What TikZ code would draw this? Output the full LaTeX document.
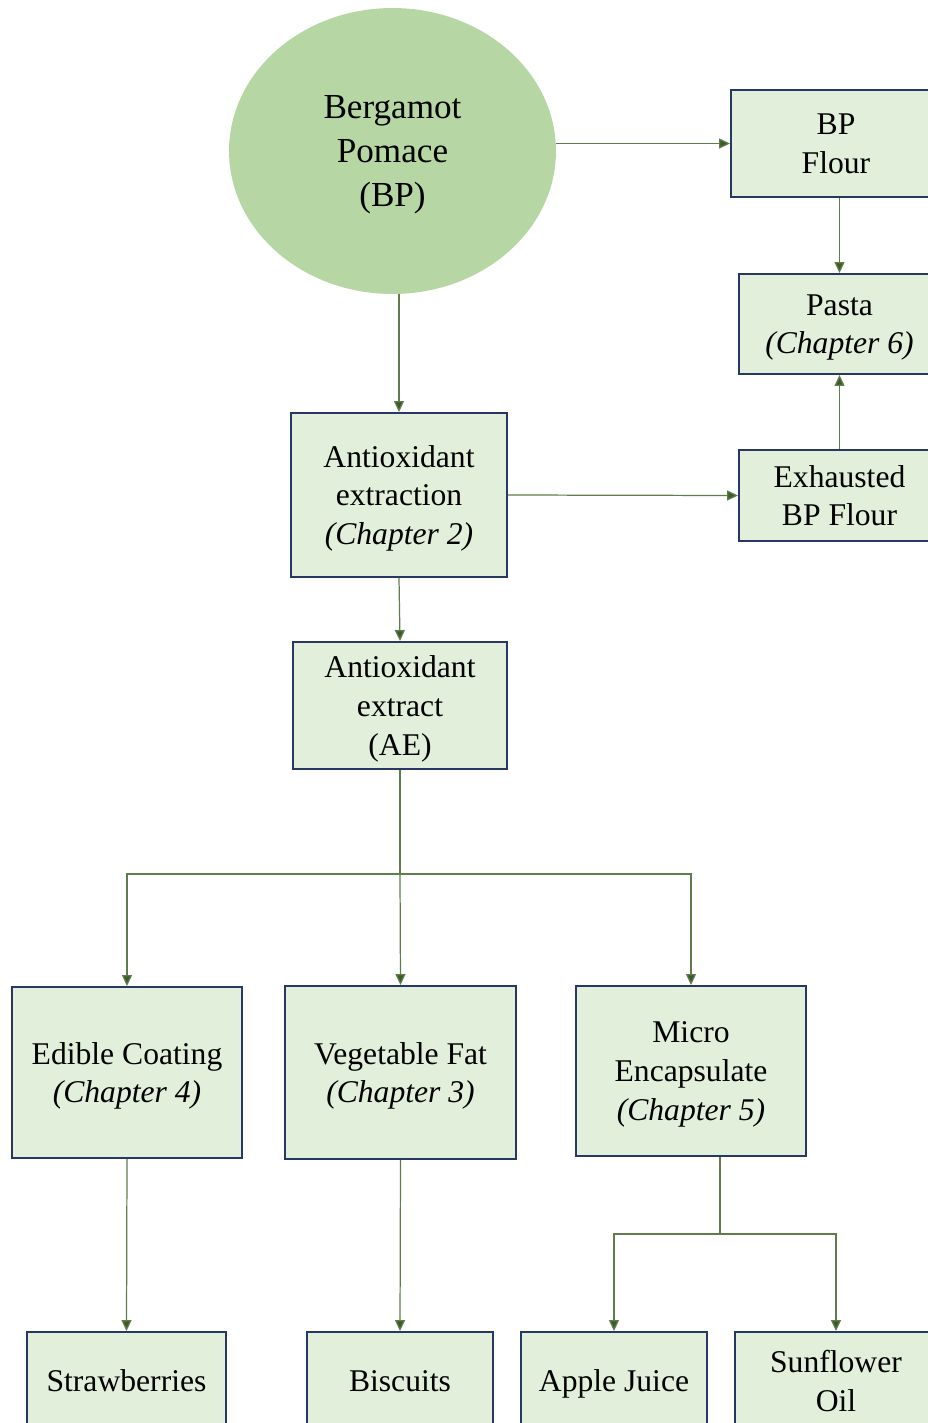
\documentclass[tikz,border=0pt]{standalone}
\usepackage{fontspec}
\setmainfont{Liberation Serif}
\usepackage{tikz}
\usetikzlibrary{shapes,arrows.meta,positioning,calc}

\definecolor{boxfill}{RGB}{226,239,218}
\definecolor{boxline}{RGB}{40,56,100}
\definecolor{bpgreen}{RGB}{182,215,163}
\definecolor{linkline}{RGB}{96,124,76}
\definecolor{tipgreen}{RGB}{60,92,38}

\begin{document}
\begin{tikzpicture}[
    x=0.02cm, y=-0.02cm,
    box/.style={draw=boxline, line width=1.1pt, fill=boxfill, inner sep=0pt, text depth=0pt, align=center, font=\fontsize{18pt}{22pt}\selectfont},
    arrow/.style={draw=linkline, line width=0.7pt, -{Triangle[length=0.22cm, width=0.2cm, fill=tipgreen]}},
    link/.style={draw=linkline, line width=0.7pt},
]
    \useasboundingbox (0,0) rectangle (928,1423);

    \node[ellipse, fill=bpgreen, inner sep=0pt, text depth=0pt, minimum width=6.54cm, minimum height=5.72cm, align=center, font=\fontsize{20pt}{25pt}\selectfont] (bp) at (392.5,151) {Bergamot\\Pomace\\(BP)};

    \node[box, minimum width=4.2cm, minimum height=2.14cm] (flour) at (836,143.5) {BP\\Flour};
    \node[box, minimum width=4.02cm, minimum height=2cm] (pasta) at (839.5,324) {Pasta\\\textit{(Chapter 6)}};
    \node[box, minimum width=4.02cm, minimum height=1.82cm] (exflour) at (839.5,495.5) {Exhausted\\BP Flour};

    \node[box, minimum width=4.32cm, minimum height=3.28cm] (extraction) at (399,495) {Antioxidant\\extraction\\\textit{(Chapter 2)}};
    \node[box, minimum width=4.28cm, minimum height=2.54cm] (extract) at (400,705.5) {Antioxidant\\extract\\(AE)};

    \node[box, minimum width=4.6cm, minimum height=3.42cm] (coating) at (127,1072.5) {Edible Coating\\\textit{(Chapter 4)}};
    \node[box, minimum width=4.62cm, minimum height=3.46cm] (vegfat) at (400.5,1072.5) {Vegetable Fat\\\textit{(Chapter 3)}};
    \node[box, minimum width=4.6cm, minimum height=3.4cm] (micro) at (691,1071) {Micro\\Encapsulate\\\textit{(Chapter 5)}};

    \node[box, minimum width=3.98cm, minimum height=1.96cm] (straw) at (126.5,1381) {Strawberries};
    \node[box, minimum width=3.72cm, minimum height=1.96cm] (biscuits) at (400,1381) {Biscuits};
    \node[box, minimum width=3.72cm, minimum height=1.96cm] (juice) at (614,1381) {Apple Juice};
    \node[box, minimum width=4.04cm, minimum height=1.96cm] (oil) at (836,1381) {Sunflower\\Oil};

    \coordinate (fork) at ($(extract.south)+(0,104)$);
    \coordinate (fork2) at ($(micro.south)+(29,77)$);

    \draw[arrow] (bp.east |- flour.west) -- (flour.west);
    \draw[arrow] (pasta.north |- flour.south) -- (pasta.north);
    \draw[arrow] (exflour.north) -- (pasta.south);
    \draw[arrow] (extraction.north |- bp.south) -- (extraction.north);
    \draw[arrow] (extraction.east) -- (exflour.west);
    \draw[arrow] (extraction.south) -- (extract.north);

    \draw[link] (extract.south) -- (fork);
    \draw[arrow] (fork) -| (coating.north);
    \draw[arrow] (fork) -- (vegfat.north);
    \draw[arrow] (fork) -| (micro.north);

    \draw[arrow] (coating.south) -- (straw.north);
    \draw[arrow] (vegfat.south) -- (biscuits.north);

    \draw[link] (fork2 |- micro.south) -- (fork2);
    \draw[arrow] (fork2) -| (juice.north);
    \draw[arrow] (fork2) -| (oil.north);
\end{tikzpicture}
\end{document}
